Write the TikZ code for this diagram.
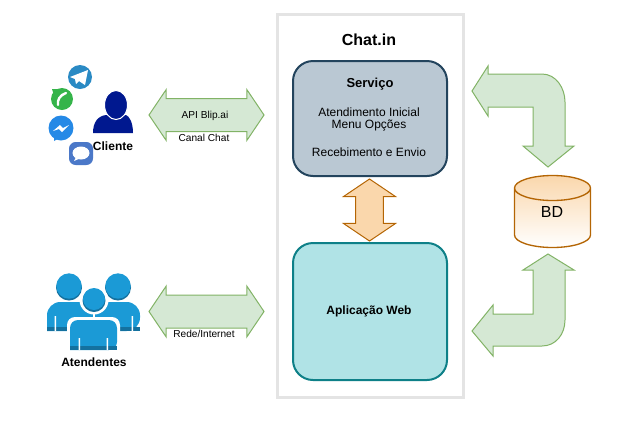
\documentclass[tikz,border=0pt]{standalone}
\usepackage{fontspec}
\setmainfont{Liberation Sans}
\usetikzlibrary{shapes.arrows,shapes.geometric}
\definecolor{framegray}{HTML}{E4E4E4}
\definecolor{greenfill}{HTML}{D5E8D4}
\definecolor{greenline}{HTML}{82B366}
\definecolor{orangefill}{HTML}{FAD7AC}
\definecolor{orangeline}{HTML}{B46504}
\definecolor{servfill}{HTML}{BAC8D3}
\definecolor{servline}{HTML}{23445D}
\definecolor{webfill}{HTML}{B0E3E6}
\definecolor{webline}{HTML}{0E8088}
\definecolor{userblue}{HTML}{1B9AD6}
\definecolor{userdark}{HTML}{14719F}
\definecolor{clientblue}{HTML}{00188F}
\definecolor{telegramblue}{HTML}{2A8AC4}
\definecolor{phonegreen}{HTML}{35B44A}
\definecolor{messengerblue}{HTML}{2589E6}
\definecolor{bubbleblue}{HTML}{4B78C8}
\begin{document}
\begin{tikzpicture}[x=0.75pt,y=-0.75pt]
	\tikzstyle{box}=[rounded corners=15pt,minimum width=115.5pt,inner sep=0pt,line width=1.5pt,align=center]
	\tikzstyle{label}=[font=\fontsize{9pt}{10pt}\selectfont,inner sep=0.5pt]
	\tikzstyle{boldlabel}=[font=\bfseries\fontsize{9pt}{10pt}\selectfont,inner sep=0.5pt]
	\tikzstyle{smalllabel}=[font=\fontsize{7.6pt}{8pt}\selectfont,inner sep=0.5pt]
	\tikzstyle{greenarrow}=[double arrow,draw=greenline,fill=greenfill,line width=0.75pt,minimum height=86.25pt,double arrow head extend=6.75pt,double arrow tip angle=112,inner sep=12pt]
	\tikzstyle{bentarrow}=[draw=greenline,fill=greenfill,line width=0.75pt,line join=miter]
	\useasboundingbox (0,0) rectangle (639,440);
	\node[draw=framegray,line width=2.25pt,minimum width=139.5pt,minimum height=287.25pt,inner sep=0pt] (chatin) at (370,205.5) {};
	\node[font=\bfseries\fontsize{12pt}{14pt}\selectfont] (title) at (369,40) {Chat.in};
	\node[box,draw=servline,fill=servfill,minimum height=86.25pt] (servico) at (370,118.5) {};
	\node[box,draw=webline,fill=webfill,minimum height=102.75pt] (web) at (370,311.5) {};
	\node[boldlabel,font=\bfseries\fontsize{9.75pt}{10pt}\selectfont] (servtitle) at (370,84) {Serviço};
	\node[label] (atend) at (369,112) {Atendimento Inicial};
	\node[label] (menu) at (369,125) {Menu Opções};
	\node[label] (receb) at (369,152) {Recebimento e Envio};
	\node[boldlabel] (webtitle) at (369,311) {Aplicação Web};
	\node[double arrow,draw=orangeline,fill=orangefill,line width=0.75pt,shape border rotate=90,minimum height=46.5pt,double arrow head extend=9pt,double arrow tip angle=112,inner sep=10.1pt] (midarrow) at (369.5,210) {};
	\node[greenarrow] (apiarrow) at (206.5,115) {};
	\node[greenarrow] (redearrow) at (206.5,311.5) {};
	\node[smalllabel] (api) at (205,116) {API Blip.ai};
	\node[smalllabel,fill=white] (canal) at (204,138) {Canal Chat};
	\node[smalllabel,fill=white] (rede) at (204,334) {Rede/Internet};
	% banco de dados
	\node[cylinder,shape border rotate=90,aspect=1.35,anchor=shape center,draw=orangeline,line width=1pt,top color=orangefill,bottom color=white,minimum width=57pt,minimum height=54pt,inner sep=0pt] (bd) at (552.5,211.5) {\phantom{BD}};
	\node[font=\fontsize{12pt}{14pt}\selectfont,inner sep=0pt] (bdtext) at (552,212) {BD};
	\draw[bentarrow] (472,91) -- (488,66) -- (488,74) -- (542,74) .. controls (556,74) and (565,88) .. (565,102) -- (565,146) -- (574,146) -- (548,167) -- (523,146) -- (533,146) -- (533,107) -- (488,107) -- (488,116) -- cycle;
	\draw[bentarrow] (472,331) -- (493,305) -- (493,314) -- (533,314) -- (533,270) -- (523,270) -- (548,254) -- (574,270) -- (565,270) -- (565,320) .. controls (565,334) and (556,346) .. (542,346) -- (493,346) -- (493,356) -- cycle;
	% cliente
	\fill[clientblue] (93,133) .. controls (93,122) and (98,116) .. (106,115) -- (126,115) .. controls (129,116) and (133,122) .. (133,133) -- cycle;
	\draw[white,line width=0.75pt,fill=clientblue] (116,105) ellipse (11.5 and 14.5);
	\node[boldlabel] (cliente) at (113,146) {Cliente};
	\fill[telegramblue] (80,77) circle (12);
	\fill[white] (70,77) -- (88,70) -- (85,85) -- (79,81) -- (76,84) -- (75,79) -- cycle;
	\fill[phonegreen] (62,99) circle (11);
	\fill[phonegreen] (52,89) -- (60,89) -- (54,95) -- cycle;
	\draw[white,line width=1.8pt,line cap=round] (66,93) .. controls (60,95) and (57,100) .. (58,105);
	\fill[messengerblue] (61,128) circle (12.5);
	\fill[messengerblue] (54,133) -- (54,141) -- (63,136) -- cycle;
	\fill[white] (53,131) -- (60,125) -- (63,128) -- (69,125) -- (62,132) -- (59,129) -- cycle;
	\fill[bubbleblue,rounded corners=5pt] (69,142) rectangle (93,165);
	\fill[white] (81,153) ellipse (8.5 and 6.5);
	\fill[white] (76,157) -- (74,161) -- (81,158) -- cycle;
	% atendentes
	\fill[userdark] (69,287.5) circle (13) (118,287.5) circle (13);
	\fill[userblue] (69,286) circle (12.7) (118,286) circle (12.7);
	\fill[userblue,rounded corners=10pt] (47,331) -- (47,302) -- (140,302) -- (140,331) [sharp corners] -- cycle;
	\fill[userdark] (47,327) rectangle (140,331);
	\fill[white] (54.5,316) rectangle (56,331) (131.5,316) rectangle (133,331);
	\fill[white] (94,300) circle (14.5);
	\fill[white] (93.2,310) rectangle (94.8,322);
	\fill[white,rounded corners=6pt] (67,351) -- (67,317) -- (120,317) -- (120,351) [sharp corners] -- cycle;
	\fill[userdark] (94,300.5) circle (11.5);
	\fill[userblue] (94,299) circle (11);
	\fill[userblue,rounded corners=6pt] (70,350) -- (70,320) -- (117,320) -- (117,350) [sharp corners] -- cycle;
	\fill[userdark] (70,346) rectangle (117,350);
	\fill[white] (78.5,338) rectangle (80,350) (106.5,338) rectangle (108,350);
	\node[boldlabel] (atendentes) at (94,362) {Atendentes};
\end{tikzpicture}
\end{document}
